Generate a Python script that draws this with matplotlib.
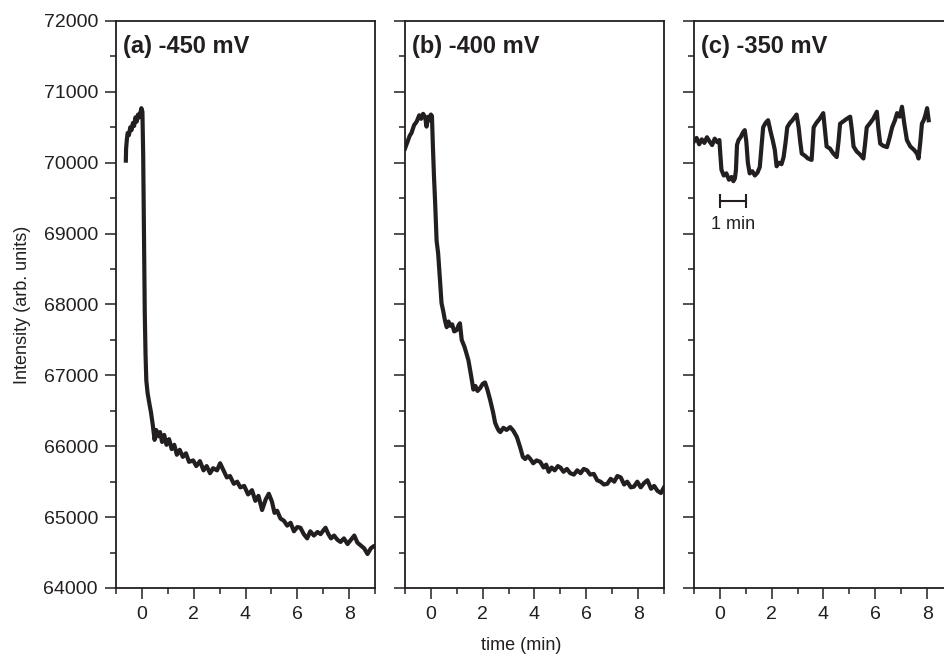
import numpy as np
import matplotlib
matplotlib.use("Agg")
import matplotlib.pyplot as plt
from matplotlib.ticker import MultipleLocator

plt.rcParams['font.family'] = ['Liberation Sans', 'DejaVu Sans']

INK = '#231f20'

# panel (a) -450 mV
a_t = [-0.62, -0.61, -0.58, -0.55, -0.5, -0.45, -0.4, -0.35, -0.3, -0.25, -0.2, -0.15, -0.1,
       -0.05, -0.02, 0.02, 0.05, 0.08, 0.11, 0.14, 0.17, 0.22, 0.28, 0.35, 0.42, 0.49, 0.55,
       0.62, 0.7, 0.78, 0.86, 0.95, 1.05, 1.15, 1.25, 1.35, 1.46, 1.58, 1.7, 1.82, 1.98, 2.1,
       2.24, 2.38, 2.5, 2.63, 2.75, 2.9, 3.02, 3.15, 3.28, 3.4, 3.55, 3.68, 3.8, 3.95, 4.1,
       4.25, 4.38, 4.5, 4.64, 4.78, 4.9, 5.02, 5.12, 5.22, 5.35, 5.48, 5.61, 5.74, 5.87, 6.0,
       6.12, 6.25, 6.38, 6.5, 6.64, 6.78, 6.9, 7.0, 7.09, 7.2, 7.3, 7.42, 7.55, 7.67, 7.8,
       7.94, 8.07, 8.2, 8.32, 8.45, 8.58, 8.71, 8.84, 8.95, 9.05]
a_I = [70030, 70200, 70330, 70420, 70390, 70500, 70460, 70560, 70520, 70640, 70580, 70680, 70640,
       70720, 70770, 70720, 70100, 69000, 67900, 67300, 66930, 66750, 66620, 66480, 66300, 66090, 66230,
       66140, 66200, 66060, 66160, 66020, 66100, 65960, 66020, 65880, 65950, 65850, 65900, 65780, 65800, 65720,
       65790, 65660, 65720, 65620, 65690, 65660, 65760, 65660, 65560, 65580, 65470, 65500, 65420, 65440, 65320,
       65380, 65230, 65300, 65100, 65250, 65330, 65220, 65060, 65090, 64980, 64950, 64880, 64920, 64800, 64860,
       64850, 64760, 64700, 64800, 64740, 64790, 64760, 64810, 64850, 64760, 64700, 64740, 64680, 64650, 64700,
       64620, 64680, 64740, 64640, 64600, 64560, 64480, 64560, 64590, 64600]

# panel (b) -400 mV
b_t = [-1.0, -0.97, -0.9, -0.82, -0.75, -0.65, -0.55, -0.45, -0.38, -0.3, -0.22, -0.17, -0.1,
       -0.04, 0.0, 0.04, 0.08, 0.12, 0.16, 0.22, 0.28, 0.35, 0.41, 0.48, 0.54, 0.61, 0.68, 0.74,
       0.82, 0.9, 1.0, 1.06, 1.12, 1.19, 1.3, 1.38, 1.45, 1.55, 1.64, 1.72, 1.8, 1.9, 2.0, 2.09,
       2.18, 2.29, 2.4, 2.48, 2.55, 2.62, 2.68, 2.8, 2.92, 3.06, 3.18, 3.32, 3.45, 3.55, 3.64,
       3.74, 3.84, 3.95, 4.08, 4.22, 4.35, 4.45, 4.55, 4.66, 4.78, 4.9, 5.0, 5.12, 5.25, 5.38,
       5.52, 5.65, 5.78, 5.9, 6.03, 6.15, 6.29, 6.42, 6.55, 6.68, 6.81, 6.94, 7.08, 7.2, 7.33,
       7.46, 7.58, 7.72, 7.84, 7.97, 8.1, 8.23, 8.36, 8.5, 8.62, 8.75, 8.88, 9.0]
b_I = [70200, 70230, 70300, 70380, 70420, 70530, 70580, 70670, 70620, 70690, 70640, 70510, 70650,
       70600, 70680, 70660, 70200, 69800, 69470, 68900, 68720, 68350, 68020, 67900, 67780, 67680, 67760, 67700,
       67720, 67620, 67640, 67700, 67735, 67500, 67400, 67300, 67210, 67000, 66800, 66850, 66780, 66820, 66880, 66900,
       66800, 66650, 66480, 66330, 66270, 66220, 66200, 66260, 66230, 66270, 66220, 66130, 65980, 65850, 65820,
       65860, 65820, 65760, 65800, 65780, 65700, 65740, 65640, 65700, 65660, 65720, 65700, 65640, 65680, 65620,
       65600, 65660, 65620, 65680, 65660, 65600, 65610, 65520, 65500, 65460, 65470, 65540, 65500, 65580, 65560,
       65460, 65500, 65420, 65430, 65500, 65420, 65480, 65520, 65400, 65440, 65370, 65340, 65420]

# panel (c) -350 mV
c_t = [-1.0, -0.9, -0.8, -0.7, -0.6, -0.5, -0.4, -0.3, -0.2, -0.1, -0.02, 0.02, 0.06, 0.15, 0.25,
       0.35, 0.45, 0.52, 0.58, 0.62, 0.66, 0.72, 0.8, 0.88, 0.96, 1.02, 1.08, 1.15, 1.25, 1.35,
       1.45, 1.54, 1.6, 1.67, 1.76, 1.86, 1.95, 2.05, 2.12, 2.19, 2.28, 2.38, 2.46, 2.54, 2.6,
       2.7, 2.8, 2.96, 3.04, 3.1, 3.16, 3.28, 3.4, 3.54, 3.58, 3.62, 3.72, 3.85, 3.99, 4.06,
       4.12, 4.25, 4.38, 4.51, 4.58, 4.64, 4.75, 4.9, 5.03, 5.1, 5.16, 5.28, 5.4, 5.54, 5.6,
       5.67, 5.8, 5.92, 6.06, 6.12, 6.19, 6.3, 6.45, 6.55, 6.65, 6.76, 6.84, 6.94, 7.03, 7.12,
       7.22, 7.35, 7.5, 7.61, 7.67, 7.74, 7.8, 7.87, 7.94, 8.0, 8.06]
c_I = [70300, 70350, 70260, 70330, 70280, 70360, 70300, 70250, 70340, 70290, 70320, 70100, 69900, 69820, 69850,
       69760, 69800, 69740, 69780, 69900, 70250, 70320, 70360, 70420, 70460, 70300, 70000, 69850, 69880, 69820,
       69860, 69940, 70200, 70500, 70560, 70600, 70450, 70300, 70180, 69950, 70000, 69980, 70080, 70300, 70500,
       70560, 70600, 70680, 70500, 70300, 70130, 70100, 70060, 70040, 70250, 70500, 70560, 70620, 70700, 70450,
       70230, 70200, 70130, 70080, 70300, 70550, 70580, 70620, 70650, 70450, 70230, 70160, 70120, 70060, 70250,
       70500, 70560, 70620, 70720, 70480, 70270, 70240, 70220, 70350, 70500, 70600, 70700, 70650, 70790, 70550,
       70320, 70230, 70180, 70130, 70060, 70300, 70550, 70600, 70680, 70770, 70600]

panels = [
    ('(a) -450 mV', a_t, a_I),
    ('(b) -400 mV', b_t, b_I),
    ('(c) -350 mV', c_t, c_I),
]
x_ticks = [0, 2, 4, 6, 8]
y_ticks = [64000, 65000, 66000, 67000, 68000, 69000, 70000, 71000, 72000]

fig = plt.figure(figsize=(9.45, 6.54), dpi=100)
lefts = [116 / 945, 405 / 945, 694 / 945]
width = 259 / 945
bottom = 1 - 588 / 654
height = (588 - 21) / 654

axes = []
for i, (title, t, y) in enumerate(panels):
    ax = fig.add_axes([lefts[i], bottom, width, height])
    ax.plot(t, y, color=INK, lw=3.0, solid_joinstyle='round')
    ax.set_xlim(-1, 9)
    ax.set_ylim(64000, 72000)
    ax.set_xticks(x_ticks)
    ax.set_yticks(y_ticks)
    ax.xaxis.set_minor_locator(MultipleLocator(1))
    ax.yaxis.set_minor_locator(MultipleLocator(500))
    ax.tick_params(which='major', direction='out', length=8, width=1.1, color=INK,
                   labelsize=14, labelcolor=INK, pad=5)
    ax.tick_params(which='minor', direction='out', length=4, width=1.1, color=INK)
    ax.tick_params(axis='both', which='both', top=False, right=False)
    for s in ax.spines.values():
        s.set_linewidth(1.3)
        s.set_color(INK)
    if i > 0:
        ax.tick_params(axis='y', labelleft=False)
    ax.text(0.028, 0.975, title, transform=ax.transAxes, ha='left', va='top',
            fontsize=17, fontweight='bold', color=INK)
    axes.append(ax)

axes[0].set_ylabel('Intensity (arb. units)', fontsize=13, color=INK, labelpad=9)

# 1 min scale bar in panel (c)
bar_start, bar_end, bar_y = 0, 1, 69460
axc = axes[2]
axc.plot([bar_start, bar_end], [bar_y, bar_y], color=INK, lw=1.5)
axc.vlines([bar_start, bar_end], bar_y - 100, bar_y + 100, color=INK, lw=1.5)
axc.text((bar_start + bar_end) / 2, bar_y - 330, '1 min', ha='center', va='center',
         fontsize=13, color=INK)

fig.text(521 / 945, 1 - 645 / 654, 'time (min)', ha='center', va='center',
         fontsize=13, color=INK)

fig.savefig('out.png', dpi=100)
